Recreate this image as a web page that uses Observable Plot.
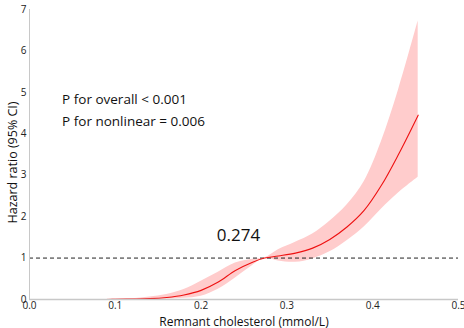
<!DOCTYPE html>
<html>
<head>
<meta charset="utf-8">
<script src="https://cdn.jsdelivr.net/npm/d3@7"></script>
<script src="https://cdn.jsdelivr.net/npm/@observablehq/plot@0.6"></script>
<style>
  html, body { margin: 0; padding: 0; background: #fff; }
  #chart svg { display: block; }
</style>
</head>
<body>
<div id="chart"></div>
<script>
const xs    = [0.09, 0.10, 0.12, 0.14, 0.16, 0.18, 0.20, 0.22, 0.24, 0.26, 0.274, 0.29, 0.31, 0.33, 0.35, 0.37, 0.39, 0.41, 0.43, 0.453];
const hr    = [0.00, 0.005, 0.01, 0.02, 0.05, 0.11, 0.22, 0.42, 0.70, 0.90, 1.00, 1.05, 1.12, 1.24, 1.45, 1.75, 2.15, 2.75, 3.50, 4.45];
const upper = [0.00, 0.01, 0.02, 0.06, 0.12, 0.24, 0.44, 0.66, 0.88, 0.97, 1.00, 1.20, 1.38, 1.58, 1.89, 2.28, 2.84, 3.80, 5.05, 6.72];
const lower = [0.00, 0.00, 0.00, 0.00, 0.01, 0.03, 0.08, 0.25, 0.52, 0.82, 1.00, 0.93, 0.90, 0.98, 1.15, 1.42, 1.75, 2.18, 2.57, 2.95];
const xTicks = [0.0, 0.1, 0.2, 0.3, 0.4, 0.5];
const yTicks = [0, 1, 2, 3, 4, 5, 6, 7];
const annotations = [
  {x: 0.038, y: 4.71, label: "P for overall < 0.001"},
  {x: 0.038, y: 4.18, label: "P for nonlinear = 0.006"},
];
const knot = {x: 0.2435, y: 1.42, label: "0.274"};

const data = xs.map((x, i) => ({x, hr: hr[i], lo: lower[i], hi: upper[i]}));

const chart = Plot.plot({
  width: 464,
  height: 328,
  marginTop: 9,
  marginBottom: 29,
  marginLeft: 29,
  marginRight: 6,
  style: {fontFamily: "'Open Sans', sans-serif", fontSize: "10px", color: "#222", background: "#fff"},
  x: {domain: [0, 0.5], label: null},
  y: {domain: [0, 7], label: null},
  marks: [
    Plot.areaY(data, {x: "x", y1: "lo", y2: "hi", fill: "#ffcccc", curve: "catmull-rom"}),
    Plot.ruleY([1], {stroke: "#222", strokeDasharray: "4,3", strokeWidth: 1}),
    Plot.lineY(data, {x: "x", y: "hr", stroke: "#ee1111", strokeWidth: 1.1, curve: "catmull-rom"}),
    Plot.ruleX([0], {stroke: "#c8c8c8", strokeWidth: 1}),
    Plot.ruleY([0], {stroke: "#c8c8c8", strokeWidth: 1.5}),
    Plot.axisX({ticks: xTicks, tickFormat: d3.format(".1f"), tickSize: 0, tickPadding: 2, fontSize: 10, label: null}),
    Plot.axisY({ticks: yTicks, tickFormat: d3.format("d"), tickSize: 0, tickPadding: 3, fontSize: 10, label: null}),
    Plot.text(annotations, {x: "x", y: "y", text: "label", textAnchor: "start", fontSize: 13.5, fill: "#111", lineAnchor: "bottom"}),
    Plot.text([knot], {x: "x", y: "y", text: "label", fontSize: 17, fill: "#111", lineAnchor: "bottom"}),
    Plot.text(["Remnant cholesterol (mmol/L)"], {frameAnchor: "bottom", dy: 26, fontSize: 12, fill: "#111", lineAnchor: "bottom"}),
    Plot.text(["Hazard ratio (95% CI)"], {frameAnchor: "left", textAnchor: "middle", dx: -17, dy: 8, rotate: -90, fontSize: 12.5, fill: "#111"})
  ]
});
document.getElementById("chart").appendChild(chart);
</script>
</body>
</html>
